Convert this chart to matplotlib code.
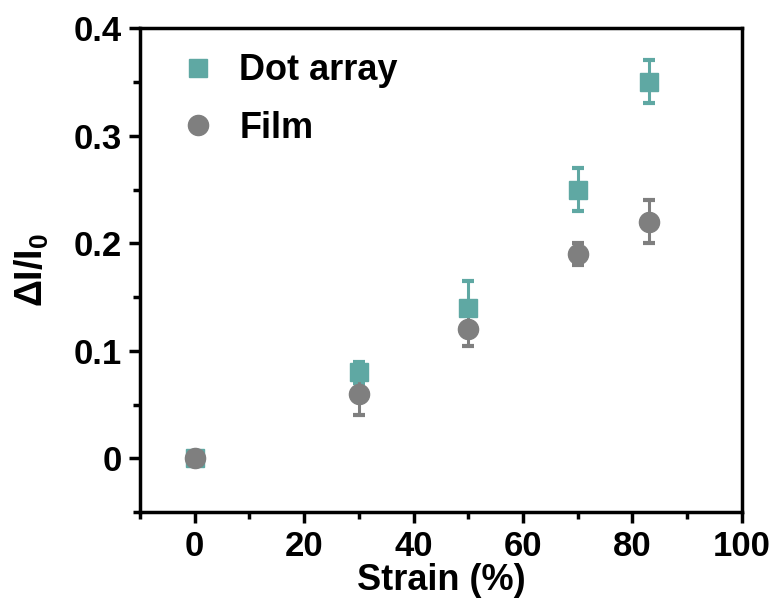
"""Strain response of dot array vs. film."""

import matplotlib
matplotlib.use("Agg")
import matplotlib.pyplot as plt
from matplotlib.lines import Line2D
from matplotlib.ticker import MultipleLocator, FuncFormatter

strain = [0, 30, 50, 70, 83]
dot_array = [0.0, 0.08, 0.14, 0.25, 0.35]
dot_err = [0.0, 0.01, 0.025, 0.02, 0.02]
film = [0.0, 0.06, 0.12, 0.19, 0.22]
film_err = [0.0, 0.02, 0.015, 0.01, 0.02]

teal = "#5fa8a3"
gray = "#7f7f7f"

plt.rcParams["font.family"] = ["Liberation Sans", "DejaVu Sans"]
plt.rcParams["font.weight"] = "bold"
plt.rcParams["mathtext.fontset"] = "custom"
plt.rcParams["mathtext.rm"] = "Liberation Sans:bold"
plt.rcParams["mathtext.bf"] = "Liberation Sans:bold"

fig = plt.figure(figsize=(7.8, 6.12), dpi=100)
ax = fig.add_axes([0.1795, 0.163, 0.7715, 0.791])

ax.errorbar(strain, dot_array, yerr=dot_err, fmt="s", color=teal,
            ms=13, capsize=4.5, capthick=3, elinewidth=2.2)
ax.errorbar(strain, film, yerr=film_err, fmt="o", color=gray,
            ms=14.5, capsize=4.5, capthick=3, elinewidth=2.2)

ax.set_xlim(-10, 100)
ax.set_ylim(-0.05, 0.4)
ax.xaxis.set_major_locator(MultipleLocator(20))
ax.xaxis.set_minor_locator(MultipleLocator(10))
ax.yaxis.set_major_locator(MultipleLocator(0.1))
ax.yaxis.set_minor_locator(MultipleLocator(0.05))
ax.yaxis.set_major_formatter(FuncFormatter(lambda v, p: "0" if abs(v) < 1e-9 else f"{v:.1f}"))

ax.tick_params(which="major", direction="out", length=8, width=2.5, labelsize=25, pad=5)
ax.tick_params(which="minor", direction="out", length=5, width=2.5)
for lab in ax.get_xticklabels() + ax.get_yticklabels():
    lab.set_fontweight("bold")
for s in ax.spines.values():
    s.set_linewidth(2.5)

ax.set_xlabel("Strain (%)", fontsize=26, fontweight="bold", labelpad=0)
ax.set_ylabel(r"ΔI/I$_\mathbf{0}$", fontsize=27, fontweight="bold", labelpad=16)

handles = [
    Line2D([], [], marker="s", ls="none", color=teal, ms=13),
    Line2D([], [], marker="o", ls="none", color=gray, ms=14.5),
]
leg = ax.legend(handles, ["Dot array", "Film"], loc="upper left", frameon=False,
                fontsize=26, handletextpad=0.25, borderaxespad=0.3,
                labelspacing=0.62, handlelength=1.8)
for t in leg.get_texts():
    t.set_fontweight("bold")

fig.savefig("out.png", dpi=100)
